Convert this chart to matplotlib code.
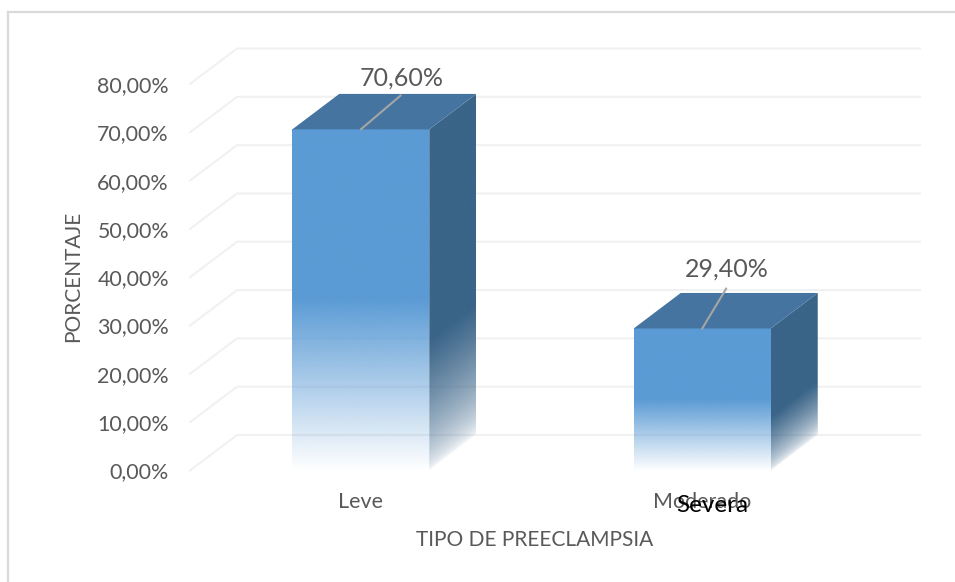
import numpy as np
import matplotlib
matplotlib.use("Agg")
import matplotlib.pyplot as plt
from matplotlib.colors import to_rgb
from matplotlib.patches import Polygon

categories = ["Leve", "Moderado"]
values = [70.60, 29.40]
value_labels = ["70,60%", "29,40%"]
y_ticks = [0, 10, 20, 30, 40, 50, 60, 70, 80]
y_tick_labels = ["0,00%", "10,00%", "20,00%", "30,00%", "40,00%",
                 "50,00%", "60,00%", "70,00%", "80,00%"]
overlay_label = "Severa"

W, H = 955, 582
FONT = "Lato"
TEXT = "#595959"
GRID = "#F1F1F1"
FRONT = "#5B9BD5"
SIDE = "#3A6488"
TOP = "#44749F"

# pixel layout of the front plane
LEFT, RIGHT, BOTTOM, TOP_PX = 190, 873, 470.5, 84
PX_X = (RIGHT - LEFT) / 2.0
PX_Y = (BOTTOM - TOP_PX) / 80.0
DEPTH_X = 47 / PX_X
DEPTH_Y = 35.5 / PX_Y
BAR_W = 137 / PX_X


def px(n):
    """Pixels to points."""
    return n * 0.72


fig = plt.figure(figsize=(W / 100, H / 100), dpi=100)
ax = fig.add_axes([LEFT / W, 1 - BOTTOM / H, (RIGHT - LEFT) / W, (BOTTOM - TOP_PX) / H])
ax.set_facecolor("none")

# chart border, only top and left show in the picture
fig.add_artist(plt.Line2D([8 / W, 8 / W], [0, 1 - 12 / H], color="#D9D9D9", lw=1.6))
fig.add_artist(plt.Line2D([8 / W, 1], [1 - 12 / H, 1 - 12 / H], color="#D9D9D9", lw=1.6))

# floor and back wall gridlines
for t in y_ticks:
    ax.plot([-0.5, -0.5 + DEPTH_X, 1.5 + DEPTH_X], [t, t + DEPTH_Y, t + DEPTH_Y],
            color=GRID, lw=1.5, clip_on=False, zorder=1)


def face_image(color, alpha):
    rgba = np.ones(alpha.shape + (4,))
    rgba[..., :3] = to_rgb(color)
    rgba[..., 3] = alpha
    return rgba


for i, (v, name) in enumerate(zip(values, value_labels)):
    x0, x1 = i - BAR_W / 2, i + BAR_W / 2

    # front face: solid down to mid height then fades out
    h = np.linspace(0, 1, 256)[:, None]
    front_alpha = np.clip(h / 0.5, 0, 1)
    ax.imshow(face_image(FRONT, front_alpha), extent=(x0, x1, 0, v), origin="lower",
              aspect="auto", zorder=3, interpolation="bilinear")

    # side face with a slanted fade
    top_y = v + DEPTH_Y
    ys = np.linspace(0, top_y, 400)
    ts = np.linspace(0, 1, 60)
    tt, yy = np.meshgrid(ts, ys)
    side_h = (yy - DEPTH_Y * tt) / v
    side_alpha = np.clip(side_h / 0.38, 0, 1) ** 0.6
    im = ax.imshow(face_image(SIDE, side_alpha), extent=(x1, x1 + DEPTH_X, 0, top_y),
                   origin="lower", aspect="auto", zorder=3, interpolation="bilinear")
    clip = Polygon([(x1, 0), (x1 + DEPTH_X, DEPTH_Y), (x1 + DEPTH_X, top_y), (x1, v)],
                   closed=True, fc="none", ec="none", transform=ax.transData)
    ax.add_patch(clip)
    im.set_clip_path(clip)

    # top face
    ax.add_patch(Polygon([(x0, v), (x1, v), (x1 + DEPTH_X, top_y), (x0 + DEPTH_X, top_y)],
                         closed=True, fc=TOP, ec="none", zorder=3))

offsets = [(41, 51, 34), (25, 59, 40)]
for i, (v, name) in enumerate(zip(values, value_labels)):
    dx, dy, rise = offsets[i]
    ax.annotate("", xy=(i, v), xytext=(px(dx - 1), px(rise)), textcoords="offset points",
                arrowprops=dict(arrowstyle="-", color="#A5A5A5", lw=1.5,
                                shrinkA=0, shrinkB=0), zorder=4)
    ax.annotate(name, xy=(i, v), xytext=(px(dx), px(dy)), textcoords="offset points",
                ha="center", va="center", fontsize=18, color=TEXT, family=FONT, zorder=5)

ax.set_xlim(-0.5, 1.5)
ax.set_ylim(0, 80)
for s in ax.spines.values():
    s.set_visible(False)

ax.set_yticks(y_ticks)
ax.set_yticklabels(y_tick_labels, fontsize=15.4, color=TEXT, family=FONT)
ax.set_xticks(range(len(categories)))
ax.set_xticklabels(categories, fontsize=15.5, color=TEXT, family=FONT)
ax.tick_params(axis="y", length=0, pad=px(21))
ax.tick_params(axis="x", length=0, pad=px(22))

ax.annotate(overlay_label, xy=(1, 0), xytext=(px(10), px(-35)), textcoords="offset points",
            ha="center", va="center", fontsize=17.5, color="black", family=FONT,
            annotation_clip=False, zorder=6)

ax.set_xlabel("TIPO DE PREECLAMPSIA", fontsize=15, color=TEXT, family=FONT, va="center")
ax.xaxis.set_label_coords(0.504, -0.18)
ax.set_ylabel("PORCENTAJE", fontsize=15, color=TEXT, family=FONT, va="center")
ax.yaxis.set_label_coords(-0.171, 0.503)

fig.savefig("out.png", dpi=100, facecolor="white")
